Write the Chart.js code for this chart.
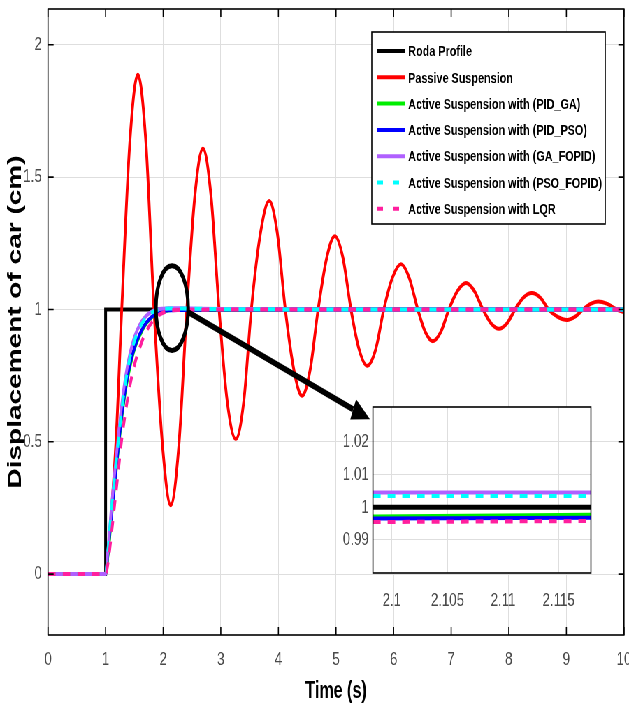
<!DOCTYPE html>
<html>
<head>
<meta charset="utf-8">
<script src="https://cdn.jsdelivr.net/npm/chart.js@4/dist/chart.umd.min.js"></script>
<style>
  html, body { margin: 0; padding: 0; background: #fff; overflow: hidden; }
  /* the figure is drawn wide and squeezed sideways, like the reference */
  #wrap { position: relative; width: 900px; height: 707px; transform: scaleX(0.6989); transform-origin: 0 0; }
  #main { position: absolute; left: 0; top: 0; }
  #inset { position: absolute; left: 480px; top: 395px; }
</style>
</head>
<body>
<div id="wrap">
  <canvas id="main" width="900" height="707"></canvas>
  <canvas id="inset" width="380" height="225"></canvas>
</div>
<script>
// data
const seriesLabels = ['Roda Profile', 'Passive Suspension', 'Active Suspension with (PID_GA)',
  'Active Suspension with (PID_PSO)', 'Active Suspension with (GA_FOPID)',
  'Active Suspension with (PSO_FOPID)', 'Active Suspension with LQR'];

const roadTime = [0, 1, 1, 10];
const road = [0, 0, 1, 1];

const passiveTime = [0, 1, 1.03, 1.18, 1.28, 1.42, 1.56, 1.70, 1.84, 1.99, 2.13, 2.27, 2.41, 2.55, 2.69, 2.83, 2.97,
  3.11, 3.26, 3.40, 3.53, 3.69, 3.84, 3.98, 4.12, 4.27, 4.41, 4.55, 4.69, 4.84, 4.98, 5.12, 5.26, 5.40, 5.54, 5.69,
  5.83, 5.98, 6.13, 6.27, 6.42, 6.55, 6.68, 6.82, 6.96, 7.11, 7.26, 7.40, 7.55, 7.69, 7.83, 7.97, 8.11, 8.25, 8.40,
  8.55, 8.69, 8.85, 9.01, 9.15, 9.29, 9.42, 9.55, 9.71, 9.87, 10];
const passive = [0, 0, 0.05, 0.5, 1.0, 1.63, 1.887, 1.63, 1.0, 0.48, 0.26, 0.48, 1.0, 1.43, 1.608, 1.43, 1.0,
  0.655, 0.51, 0.655, 1.0, 1.29, 1.41, 1.29, 1.0, 0.77, 0.674, 0.77, 1.0, 1.196, 1.277, 1.196, 1.0, 0.85, 0.787, 0.85,
  1.0, 1.12, 1.171, 1.12, 1.0, 0.915, 0.88, 0.915, 1.0, 1.07, 1.10, 1.07, 1.0, 0.948, 0.927, 0.948, 1.0, 1.044, 1.062,
  1.044, 1.0, 0.972, 0.96, 0.972, 1.0, 1.021, 1.03, 1.021, 1.0, 0.99];

const activeTime = [0, 1, 1.04, 1.1, 1.16, 1.22, 1.28, 1.35, 1.42, 1.5, 1.6, 1.7, 1.8, 1.9, 2.0, 2.1, 2.3, 2.6, 3, 4, 5, 6, 7, 8, 9, 10];
const pidGa    = [0, 0, 0.07, 0.21, 0.34, 0.47, 0.59, 0.70, 0.78, 0.85, 0.905, 0.945, 0.97, 0.985, 0.993, 0.9972, 0.9985, 0.9992, 0.9996, 1, 1, 1, 1, 1, 1, 1];
const pidPso   = [0, 0, 0.08, 0.22, 0.35, 0.48, 0.60, 0.71, 0.79, 0.855, 0.91, 0.948, 0.972, 0.986, 0.993, 0.9967, 0.998, 0.999, 0.9995, 1, 1, 1, 1, 1, 1, 1];
const gaFopid  = [0, 0, 0.09, 0.25, 0.39, 0.52, 0.64, 0.75, 0.83, 0.895, 0.945, 0.975, 0.992, 1.0, 1.003, 1.0045, 1.0045, 1.003, 1.0015, 1.0003, 1, 1, 1, 1, 1, 1];
const psoFopid = [0, 0, 0.085, 0.24, 0.37, 0.50, 0.62, 0.73, 0.815, 0.88, 0.935, 0.968, 0.988, 0.998, 1.002, 1.0035, 1.0035, 1.0025, 1.0012, 1.0002, 1, 1, 1, 1, 1, 1];
const lqr      = [0, 0, 0.04, 0.15, 0.27, 0.39, 0.51, 0.62, 0.71, 0.79, 0.86, 0.915, 0.95, 0.975, 0.988, 0.9955, 0.998, 0.999, 0.9995, 1, 1, 1, 1, 1, 1, 1];

const xTicks = [0, 1, 2, 3, 4, 5, 6, 7, 8, 9, 10];
const yTicks = [0, 0.5, 1, 1.5, 2];

// zoomed window around t = 2.1 s
const insetTime = [2.0983, 2.1179];
const insetRoad = [1, 1];
const insetPidGa = [0.9972, 0.9977];
const insetPidPso = [0.9966, 0.9968];
const insetGaFopid = [1.0045, 1.0045];
const insetPsoFopid = [1.0035, 1.0035];
const insetLqr = [0.9955, 0.9958];
const insetXTicks = [2.1, 2.105, 2.11, 2.115];
const insetYTicks = [0.99, 1, 1.01, 1.02];

const colors = ['#000000', '#ff0000', '#00ee00', '#0000ff', '#b060ff', '#00ffff', '#ff1f9e'];
const dashed = [false, false, false, false, false, true, true];

const pts = (xs, ys) => xs.map((x, i) => ({ x: x, y: ys[i] }));
const FONT = "'Liberation Sans', Arial, sans-serif";

// box + inward tick marks, matlab style
const framePlugin = {
  id: 'frame',
  afterDatasetsDraw(chart, args, opts) {
    const { ctx, chartArea: a, scales: { x, y } } = chart;
    ctx.save();
    ctx.strokeStyle = '#000';
    ctx.lineWidth = opts.width;
    ctx.strokeRect(a.left, a.top, a.right - a.left, a.bottom - a.top);
    if (opts.tick) {
      ctx.beginPath();
      x.ticks.forEach(t => {
        const px = x.getPixelForValue(t.value);
        ctx.moveTo(px, a.bottom); ctx.lineTo(px, a.bottom - opts.tick);
        ctx.moveTo(px, a.top); ctx.lineTo(px, a.top + opts.tick);
      });
      y.ticks.forEach(t => {
        const py = y.getPixelForValue(t.value);
        ctx.moveTo(a.left, py); ctx.lineTo(a.left + opts.tick, py);
        ctx.moveTo(a.right, py); ctx.lineTo(a.right - opts.tick, py);
      });
      ctx.stroke();
    }
    ctx.restore();
  }
};

const plotBgPlugin = {
  id: 'plotBg',
  beforeDraw(chart) {
    const { ctx, chartArea: a } = chart;
    ctx.save();
    ctx.fillStyle = '#fff';
    ctx.fillRect(a.left, a.top, a.right - a.left, a.bottom - a.top);
    ctx.restore();
  }
};

// ellipse + arrow pointing at the inset (data coordinates)
const calloutPlugin = {
  id: 'callout',
  afterDatasetsDraw(chart, args, o) {
    const { ctx, scales: { x, y } } = chart;
    const cx = x.getPixelForValue(o.center[0]);
    const cy = y.getPixelForValue(o.center[1]);
    const rx = x.getPixelForValue(o.center[0] + o.radius[0]) - cx;
    const ry = cy - y.getPixelForValue(o.center[1] + o.radius[1]);
    ctx.save();
    ctx.strokeStyle = '#000';
    ctx.fillStyle = '#000';
    ctx.lineWidth = o.width;
    ctx.beginPath();
    ctx.ellipse(cx, cy, rx, ry, 0, 0, Math.PI * 2);
    ctx.stroke();
    const x0 = x.getPixelForValue(o.from[0]), y0 = y.getPixelForValue(o.from[1]);
    const x1 = x.getPixelForValue(o.to[0]), y1 = y.getPixelForValue(o.to[1]);
    const ang = Math.atan2(y1 - y0, x1 - x0);
    const hx = x1 - Math.cos(ang) * o.head, hy = y1 - Math.sin(ang) * o.head;
    ctx.lineWidth = o.arrowWidth;
    ctx.beginPath();
    ctx.moveTo(x0, y0);
    ctx.lineTo(hx, hy);
    ctx.stroke();
    ctx.beginPath();
    ctx.moveTo(x1, y1);
    ctx.lineTo(hx + Math.sin(ang) * o.headW, hy - Math.cos(ang) * o.headW);
    ctx.lineTo(hx - Math.sin(ang) * o.headW, hy + Math.cos(ang) * o.headW);
    ctx.closePath();
    ctx.fill();
    ctx.restore();
  }
};

// legend box inside the axes, top right
const boxLegendPlugin = {
  id: 'boxLegend',
  afterDraw(chart, args, o) {
    const { ctx } = chart;
    ctx.save();
    ctx.fillStyle = '#fff';
    ctx.fillRect(o.left, o.top, o.width, o.height);
    ctx.strokeStyle = '#000';
    ctx.lineWidth = 1.6;
    ctx.strokeRect(o.left, o.top, o.width, o.height);
    ctx.font = 'bold ' + o.fontSize + 'px ' + FONT;
    ctx.textBaseline = 'middle';
    chart.data.datasets.forEach((ds, i) => {
      const yy = o.firstRow + i * o.rowGap;
      const isDash = ds.borderDash && ds.borderDash.length;
      ctx.strokeStyle = ds.borderColor;
      ctx.lineWidth = 4;
      ctx.setLineDash(isDash ? [9, 14] : []);
      ctx.beginPath();
      ctx.moveTo(o.left + 7, yy);
      ctx.lineTo(o.left + (isDash ? 39 : 47), yy);
      ctx.stroke();
      ctx.setLineDash([]);
      ctx.fillStyle = '#000';
      ctx.fillText(ds.label, o.left + 52, yy + 1);
    });
    ctx.restore();
  }
};

const mainSeries = [pts(roadTime, road), pts(passiveTime, passive), pts(activeTime, pidGa), pts(activeTime, pidPso),
  pts(activeTime, gaFopid), pts(activeTime, psoFopid), pts(activeTime, lqr)];

new Chart(document.getElementById('main'), {
  type: 'line',
  data: {
    datasets: mainSeries.map((d, i) => ({
      label: seriesLabels[i],
      data: d,
      borderColor: colors[i],
      borderWidth: i === 1 ? 3.9 : 4,
      borderDash: dashed[i] ? [11, 10] : [],
      cubicInterpolationMode: i === 0 ? 'default' : 'monotone',
      tension: 0,
      pointRadius: 0,
      fill: false,
      order: mainSeries.length - i
    }))
  },
  options: {
    responsive: false,
    animation: false,
    events: [],
    layout: { padding: { left: 0, right: 7.2, top: 9, bottom: 0 } },
    plugins: {
      legend: { display: false },
      tooltip: { enabled: false },
      frame: { width: 1.6, tick: 8 },
      callout: { center: [2.153, 1.005], radius: [0.28, 0.16], width: 5,
                 from: [2.43, 0.99], to: [5.59, 0.585], arrowWidth: 6, head: 26, headW: 11 },
      boxLegend: { left: 532, top: 32, width: 334, height: 192, firstRow: 51, rowGap: 26.3, fontSize: 15.5 }
    },
    scales: {
      x: {
        type: 'linear', min: 0, max: 10,
        afterBuildTicks: s => { s.ticks = xTicks.map(v => ({ value: v })); },
        afterFit: s => { s.height = 72; s.paddingLeft = 0; s.paddingRight = 0; },
        grid: { color: '#dedede', lineWidth: 1, drawTicks: false },
        border: { display: false },
        ticks: { padding: 13, color: '#4a4a4a', font: { family: FONT, size: 19 }, maxRotation: 0, autoSkip: false,
                 callback: v => String(v) },
        title: { display: true, text: 'Time (s)', color: '#000', font: { family: FONT, size: 23, weight: 'bold', lineHeight: 1.2 },
                 padding: { top: 0, bottom: 2 } }
      },
      y: {
        type: 'linear', min: -0.23, max: 2.135,
        afterBuildTicks: s => { s.ticks = yTicks.map(v => ({ value: v })); },
        afterFit: s => { s.width = 68.7; s.paddingTop = 0; s.paddingBottom = 0; },
        grid: { color: '#dedede', lineWidth: 1, drawTicks: false },
        border: { display: false },
        ticks: { padding: 9, color: '#4a4a4a', font: { family: FONT, size: 19 }, autoSkip: false,
                 callback: v => String(v) },
        title: { display: true, text: 'Displacement of car (cm)', color: '#000',
                 font: { family: FONT, size: 28, weight: 'bold', lineHeight: 1.2 }, padding: { top: 5, bottom: 0 } }
      }
    }
  },
  plugins: [framePlugin, calloutPlugin, boxLegendPlugin]
});

const insetSeries = [insetRoad, insetPidGa, insetPidPso, insetGaFopid, insetPsoFopid, insetLqr];
const insetIdx = [0, 2, 3, 4, 5, 6];

new Chart(document.getElementById('inset'), {
  type: 'line',
  data: {
    datasets: insetSeries.map((vals, k) => {
      const i = insetIdx[k];
      return {
        label: seriesLabels[i],
        data: pts(insetTime, vals),
        borderColor: colors[i],
        borderWidth: i === 0 ? 5 : 4,
        borderDash: dashed[i] ? [11, 10] : [],
        tension: 0,
        pointRadius: 0,
        fill: false,
        order: insetSeries.length - k
      };
    })
  },
  options: {
    responsive: false,
    animation: false,
    events: [],
    layout: { padding: { left: 0, right: 14.5, top: 12, bottom: 0 } },
    plugins: {
      legend: { display: false },
      tooltip: { enabled: false },
      frame: { width: 1.6, tick: 0 }
    },
    scales: {
      x: {
        type: 'linear', min: 2.0983, max: 2.1179,
        afterBuildTicks: s => { s.ticks = insetXTicks.map(v => ({ value: v })); },
        afterFit: s => { s.height = 47; s.paddingLeft = 0; s.paddingRight = 0; },
        grid: { color: '#dedede', lineWidth: 1, drawTicks: false },
        border: { display: false },
        ticks: { padding: 16, color: '#4a4a4a', font: { family: FONT, size: 19 }, maxRotation: 0, autoSkip: false,
                 callback: v => String(v) }
      },
      y: {
        type: 'linear', min: 0.9799, max: 1.0307,
        afterBuildTicks: s => { s.ticks = insetYTicks.map(v => ({ value: v })); },
        afterFit: s => { s.width = 53.6; s.paddingTop = 0; s.paddingBottom = 0; },
        grid: { color: '#dedede', lineWidth: 1, drawTicks: false },
        border: { display: false },
        ticks: { padding: 6, color: '#4a4a4a', font: { family: FONT, size: 19 }, autoSkip: false,
                 callback: v => String(v) }
      }
    }
  },
  plugins: [plotBgPlugin, framePlugin]
});
</script>
</body>
</html>
